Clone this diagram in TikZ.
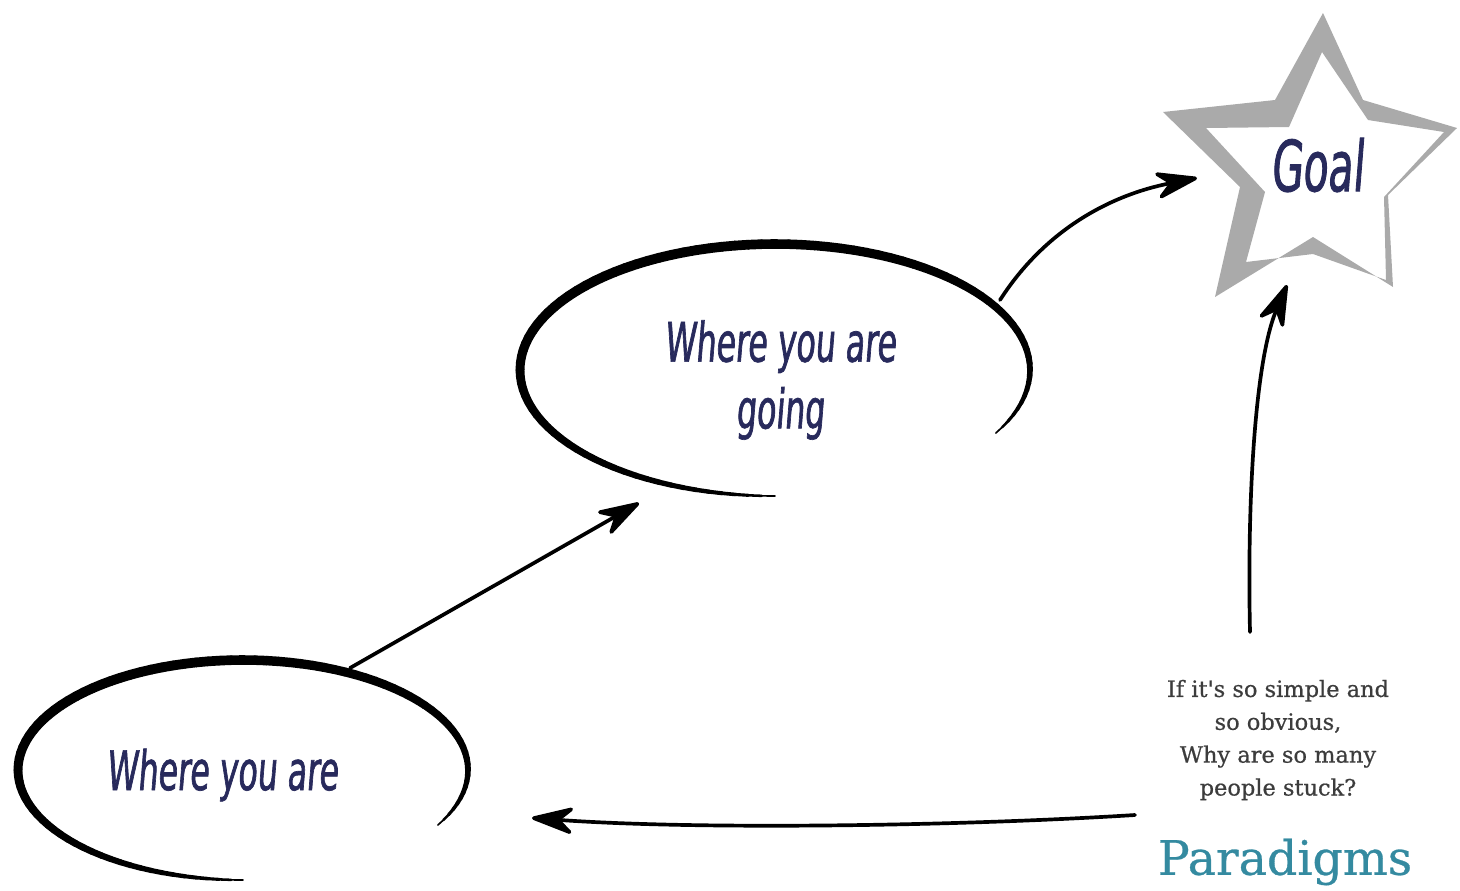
\documentclass[tikz,border=0pt]{standalone}
\usepackage{fontspec}
\usetikzlibrary{arrows.meta}
\newfontfamily\handfont{DejaVu Sans}[FakeStretch=0.58,FakeSlant=0.08,FakeBold=1.2]
\newfontfamily\bookfont{DejaVu Serif}[FakeBold=0.6]
\definecolor{ink}{RGB}{40,42,92}
\definecolor{starline}{RGB}{170,170,170}
\definecolor{teal}{RGB}{52,138,160}
\definecolor{quote}{RGB}{60,60,60}

% open, tapered brush stroke around an ellipse: centre (#1,#2), radii #3, #4
\newcommand\brushring[4]{%
  \foreach \i in {0,...,99}{%
    \pgfmathsetmacro\aa{-90-3*\i}%
    \pgfmathsetmacro\bb{-93-3*\i}%
    \pgfmathsetmacro\ss{sin(1.8*\i+0.9)}%
    \pgfmathsetmacro\ww{0.3+5.3*sqrt(\ss)}%
    \draw[line width=\ww pt,line cap=round]
      ({#1+#3*cos(\aa)},{#2-#4*sin(\aa)}) -- ({#1+#3*cos(\bb)},{#2-#4*sin(\bb)});
  }}

\tikzset{
  handtext/.style={text=ink,font=\handfont,align=center,inner sep=0pt},
  flow/.style={line width=2.1pt,line cap=round,
    -{Stealth[length=1cm,width=0.62cm,inset=0.34cm,round]}},
}

\begin{document}
\begin{tikzpicture}[x=0.02cm,y=-0.02cm]
\useasboundingbox (0,0) rectangle (1460,890);

% goal star: thick grey outline with an uneven rim
\fill[starline,even odd rule]
  (1323,13) -- (1363,100) -- (1457,128) -- (1388,195) -- (1393,287) --
  (1313,237) -- (1215,297) -- (1240,187) -- (1163,112) -- (1275,100) -- cycle
  (1322,52) -- (1289,127) -- (1206,128) -- (1265,192) -- (1246,262) --
  (1313,254) -- (1386,280) -- (1384,197) -- (1444,132) -- (1368,120) -- cycle;

% the two hand-drawn ellipses
\brushring{243}{770}{225}{110}
\brushring{775}{370}{255}{126}

% labels
\node[handtext,font=\handfont\fontsize{31pt}{36pt}\selectfont] (here) at (222,775) {Where you are};
\node[handtext,font=\handfont\fontsize{31pt}{38pt}\selectfont] (going) at (780,380) {Where you are\\going};
\node[handtext,font=\handfont\fontsize{40pt}{44pt}\selectfont] (goal) at (1317,165) {Goal};
\node[text=quote,font=\bookfont\fontsize{12.8pt}{18.7pt}\selectfont,align=center,inner sep=0pt]
  (question) at (1278,740) {If it's so simple and\\so obvious,\\Why are so many\\people stuck?};
\node[text=teal,font=\bookfont\fontsize{27pt}{32pt}\selectfont,inner sep=0pt]
  (paradigms) at (1285,862) {Paradigms};

% connector end points on the strokes
\coordinate (hereTop) at (350,668);
\coordinate (goingIn) at (639,503);
\coordinate (goingOut) at (1000,300);
\coordinate (goalIn) at (1197,178);
\coordinate (questionTop) at (1250,632);
\coordinate (goalBottom) at (1287,285);
\coordinate (paradigmsLeft) at (1135,815);
\coordinate (hereRight) at (532,818);

\draw[flow] (hereTop) -- (goingIn);
\draw[flow] (goingOut) .. controls (1045,230) and (1110,195) .. (goalIn);
\draw[flow] (questionTop) .. controls (1247,500) and (1255,360) .. (goalBottom);
\draw[flow] (paradigmsLeft) .. controls (960,826) and (700,830) .. (hereRight);
\end{tikzpicture}
\end{document}
